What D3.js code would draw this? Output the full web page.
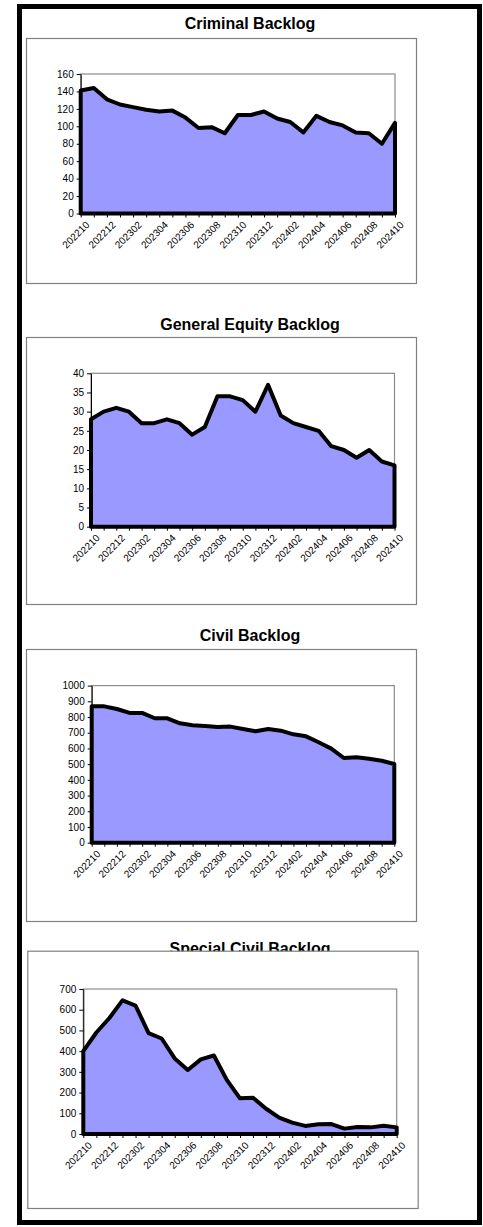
<!DOCTYPE html>
<html>
<head>
<meta charset="utf-8">
<script src="https://cdn.jsdelivr.net/npm/d3@7"></script>
<style>
  body { margin: 0; background: #fff; }
  svg { display: block; }
  text { font-family: Arial, "Liberation Sans", sans-serif; }
</style>
</head>
<body>
<svg id="chart" width="483" height="1227"></svg>
<script>
// month categories (yyyymm)
const months = [
  '202210', '202211', '202212', '202301', '202302', '202303', '202304', '202305', '202306',
  '202307', '202308', '202309', '202310', '202311', '202312', '202401', '202402', '202403',
  '202404', '202405', '202406', '202407', '202408', '202409', '202410'
];

// backlog values
const criminal = [141, 144, 131, 125, 122, 119, 117, 118, 110, 98, 99, 92, 113,
  113, 117, 109, 105, 93, 112, 105, 101, 93, 92, 80, 104];
const generalEquity = [28, 30, 31, 30, 27, 27, 28, 27, 24, 26, 34, 34, 33,
  30, 37, 29, 27, 26, 25, 21, 20, 18, 20, 17, 16];
const civil = [868, 868, 851, 826, 826, 792, 792, 760, 747, 743, 737, 739, 724,
  709, 724, 713, 690, 677, 639, 599, 539, 544, 535, 522, 501];
const specialCivil = [400, 490, 560, 645, 620, 487, 461, 365, 309, 360, 379, 260, 172,
  175, 122, 79, 55, 39, 47, 48, 26, 34, 32, 40, 32];

// y tick labels
const criminalTicks = [0, 20, 40, 60, 80, 100, 120, 140, 160];
const equityTicks = [0, 5, 10, 15, 20, 25, 30, 35, 40];
const civilTicks = [0, 100, 200, 300, 400, 500, 600, 700, 800, 900, 1000];
const specialTicks = [0, 100, 200, 300, 400, 500, 600, 700];

const titles = ['Criminal Backlog', 'General Equity Backlog', 'Civil Backlog', 'Special Civil Backlog'];

// layout of each panel on the page
const panels = [
  { title: titles[0], values: criminal, ticks: criminalTicks, titleY: 29,
    box: [26, 38, 416, 283], plot: [80.7, 74, 395, 213.5] },
  { title: titles[1], values: generalEquity, ticks: equityTicks, titleY: 330,
    box: [26, 337, 416, 604], plot: [91, 373.3, 394.5, 526.7] },
  { title: titles[2], values: civil, ticks: civilTicks, titleY: 641,
    box: [26, 649, 416, 921], plot: [91.7, 685.6, 394.3, 842.7] },
  { title: titles[3], values: specialCivil, ticks: specialTicks, titleY: 954,
    box: [27.3, 950.7, 417.7, 1208], plot: [83.3, 989, 396.7, 1134] }
];

const svg = d3.select('#chart');

// outer frame
svg.append('rect')
  .attr('x', 19.5).attr('y', 6.5)
  .attr('width', 460).attr('height', 1216)
  .attr('fill', 'none')
  .attr('stroke', '#000')
  .attr('stroke-width', 5);

panels.forEach(p => {
  const g = svg.append('g');

  g.append('text')
    .attr('x', 250).attr('y', p.titleY)
    .attr('text-anchor', 'middle')
    .style('font-size', '16px')
    .style('font-weight', 'bold')
    .text(p.title);

  // chart box (drawn over the title, as in the picture)
  g.append('rect')
    .attr('x', p.box[0] + 0.5).attr('y', p.box[1] + 0.5)
    .attr('width', p.box[2] - p.box[0]).attr('height', p.box[3] - p.box[1])
    .attr('fill', '#fff')
    .attr('stroke', '#808080')
    .attr('stroke-width', 1.2);

  const [left, top, right, bottom] = p.plot;

  const x = d3.scalePoint()
    .domain(months)
    .range([left, right]);

  const y = d3.scaleLinear()
    .domain([0, d3.max(p.ticks)])
    .range([bottom, top]);

  // plot area border
  g.append('rect')
    .attr('x', left).attr('y', top)
    .attr('width', right - left).attr('height', bottom - top)
    .attr('fill', 'none')
    .attr('stroke', '#8c8c8c')
    .attr('stroke-width', 1.2);

  const area = d3.area()
    .x((d, i) => x(months[i]))
    .y0(y(0))
    .y1(d => y(d));

  g.append('path')
    .datum(p.values)
    .attr('d', area)
    .attr('fill', '#9999ff');

  const yAxis = g.append('g')
    .attr('transform', `translate(${left},0)`)
    .call(d3.axisLeft(y)
      .tickValues(p.ticks)
      .tickFormat(d3.format('d'))
      .tickSize(4)
      .tickPadding(3)
      .tickSizeOuter(0));
  yAxis.selectAll('text').style('font-size', '10px').attr('fill', '#000');

  const xAxis = g.append('g')
    .attr('transform', `translate(0,${bottom})`)
    .call(d3.axisBottom(x)
      .tickSize(4)
      .tickSizeOuter(0)
      .tickFormat((d, i) => (i % 2 === 0 ? d : '')));
  xAxis.selectAll('text')
    .style('font-size', '10px')
    .attr('fill', '#000')
    .attr('text-anchor', 'end')
    .attr('dx', 0)
    .attr('dy', 0)
    .attr('transform', 'translate(4,7) rotate(-45)');

  // thick outline of the area
  g.append('path')
    .datum(p.values)
    .attr('d', area)
    .attr('fill', 'none')
    .attr('stroke', '#000')
    .attr('stroke-width', 4)
    .attr('stroke-linejoin', 'round');
});
</script>
</body>
</html>
